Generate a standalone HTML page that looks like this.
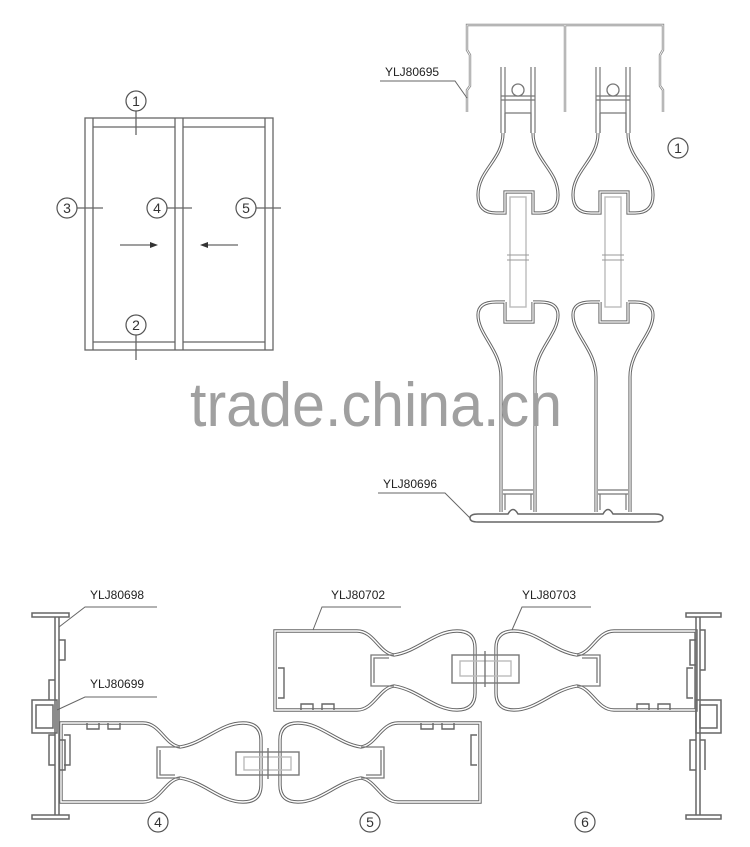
<!DOCTYPE html>
<html><head><meta charset="utf-8"><style>
html,body{margin:0;padding:0;background:#fff;}
svg{display:block;}
text{font-family:"Liberation Sans",sans-serif;}
</style></head><body>
<svg width="750" height="847" viewBox="0 0 750 847" xmlns="http://www.w3.org/2000/svg">
<defs>
 <g id="hs">
  <path d="M61,723 L143,723 C160,723 165,745 180,747 C205,743 220,723 243,723 Q261,723 261,740 L261,785 Q261,802 243,802 C220,802 205,782 180,778 C165,780 160,802 143,802 L61,802 Z" fill="none" stroke="#666" stroke-width="3.4"/>
  <path d="M61,723 L143,723 C160,723 165,745 180,747 C205,743 220,723 243,723 Q261,723 261,740 L261,785 Q261,802 243,802 C220,802 205,782 180,778 C165,780 160,802 143,802 L61,802 Z" fill="none" stroke="#fff" stroke-width="1.4"/>
  <path d="M180,747 H157 V778 H180 M160,750 V775 H175" fill="none" stroke="#777" stroke-width="1.3"/>
  <path d="M87,723 v6 h12 v-6 M108,723 v6 h12 v-6" fill="none" stroke="#666" stroke-width="1.4"/>
  <path d="M64,735 h6 v30 h-6" fill="none" stroke="#666" stroke-width="1.4"/>
 </g>
 <g id="vs">
  <path d="M-17,67 V133 M17,67 V133 M-13,67 V133 M13,67 V133 M-17,96 H17 M-17,100 H17" fill="none" stroke="#777" stroke-width="1.2"/>
  <circle cx="0" cy="90" r="6" fill="#fff" stroke="#777" stroke-width="1.3"/>
  <path d="M-15,133 C-15,160 -40,170 -40,195 Q-40,213 -22,213 L-13,213 L-13,192 L15,192 L15,213 L22,213 Q40,213 40,195 C40,170 15,160 15,133" fill="none" stroke="#666" stroke-width="3.2"/>
  <path d="M-15,133 C-15,160 -40,170 -40,195 Q-40,213 -22,213 L-13,213 L-13,192 L15,192 L15,213 L22,213 Q40,213 40,195 C40,170 15,160 15,133" fill="none" stroke="#fff" stroke-width="1.2"/>
  <path d="M-13,113 H13 V133 M-13,113 V133" fill="none" stroke="#777" stroke-width="1.2"/>
  <rect x="-8" y="197" width="16" height="110" fill="none" stroke="#bbb" stroke-width="1.4"/>
  <path d="M-11,255 H11 M-11,260 H11" stroke="#999" stroke-width="1"/>
  <path d="M-13,302 V322 H15 V302 M-13,302 L-22,302 Q-40,302 -40,315 C-40,335 -17,350 -17,377 V512 M15,302 L22,302 Q40,302 40,315 C40,335 17,350 17,377 V512" fill="none" stroke="#666" stroke-width="3.2"/>
  <path d="M-13,302 V322 H15 V302 M-13,302 L-22,302 Q-40,302 -40,315 C-40,335 -17,350 -17,377 V512 M15,302 L22,302 Q40,302 40,315 C40,335 17,350 17,377 V512" fill="none" stroke="#fff" stroke-width="1.2"/>
  <path d="M-15,490 H15 M-15,494 H15 M-13,494 V510 M13,494 V510" fill="none" stroke="#777" stroke-width="1.2"/>
 </g>
</defs>

<!-- top-left elevation -->
<g fill="none" stroke="#666" stroke-width="1.3">
 <rect x="85" y="118" width="188" height="232"/>
 <path d="M93,118 V350 M175,118 V350 M183,118 V350 M265,118 V350 M93,127 H175 M183,127 H265 M93,342 H175 M183,342 H265"/>
 <path d="M136,111 V135 M77,208 H103 M167,208 H192 M256,208 H281 M136,335 V360 M120,245 H150 M238,245 H208"/>
</g>
<path d="M150,242 L158,245 L150,248 Z M208,242 L200,245 L208,248 Z" fill="#333"/>
<g fill="#fff" stroke="#555" stroke-width="1.2">
 <circle cx="136" cy="101" r="10"/><circle cx="67" cy="208" r="10"/><circle cx="157" cy="208" r="10"/><circle cx="246" cy="208" r="10"/><circle cx="136" cy="325" r="10"/>
</g>
<g font-size="14" fill="#333" text-anchor="middle">
 <text x="136" y="106">1</text><text x="67" y="213">3</text><text x="157" y="213">4</text><text x="246" y="213">5</text><text x="136" y="330">2</text>
</g>

<!-- top-right section -->
<path d="M467,112 V90 L470,86 V55 L467,50 V25 H663 V50 L660,55 V86 L663,90 V112 M565,25 V112" fill="none" stroke="#888" stroke-width="2.4"/>
<path d="M467,112 V90 L470,86 V55 L467,50 V25 H663 V50 L660,55 V86 L663,90 V112 M565,25 V112" fill="none" stroke="#fff" stroke-width="0.8"/>
<use href="#vs" transform="translate(518,0)"/>
<use href="#vs" transform="translate(613,0)"/>
<path d="M470,518 Q470,514 478,514 H508 Q513,505 518,514 H603 Q608,505 613,514 H655 Q663,514 663,518 Q663,522 655,522 H478 Q470,522 470,518 Z" fill="none" stroke="#666" stroke-width="1.5"/>
<circle cx="678" cy="148" r="10" fill="#fff" stroke="#555" stroke-width="1.2"/>
<text x="678" y="153" font-size="14" fill="#333" text-anchor="middle">1</text>
<g fill="#222" font-size="12">
 <text x="385" y="76">YLJ80695</text>
 <text x="383" y="488">YLJ80696</text>
</g>
<path d="M380,81 H455 L467,98 M378,493 H445 L470,518" fill="none" stroke="#666" stroke-width="1"/>

<!-- watermark -->
<text x="190" y="426" font-size="62" fill="#a0a0a0" textLength="372" lengthAdjust="spacingAndGlyphs">trade.china.cn</text>

<!-- bottom sections -->
<use href="#hs"/>
<use href="#hs" transform="translate(541,0) scale(-1,1)"/>
<use href="#hs" transform="translate(214,1433) scale(1,-1)"/>
<use href="#hs" transform="translate(971,0) scale(-1,1) translate(214,1433) scale(1,-1)"/>
<g fill="none" stroke="#777" stroke-width="1.4">
 <rect x="236" y="752" width="63" height="23"/><rect x="244" y="757" width="47" height="13" stroke="#bbb"/><path d="M268,748 V779"/>
 <rect x="452" y="655" width="67" height="28"/><rect x="460" y="661" width="51" height="15" stroke="#bbb"/><path d="M485,651 V687"/>
</g>
<!-- frames -->
<g fill="none" stroke="#666" stroke-width="1.5">
 <path d="M32,613 H69 V617 H32 Z M32,815 H69 V819 H32 Z M55,617 V815 M59,617 V815 M59,640 h6 v20 h-6 M59,740 h6 v30 h-6 M55,680 h-6 v20 M55,735 h-6 v30 h6"/>
 <rect x="32" y="700" width="25" height="33"/><rect x="36" y="705" width="17" height="23"/>
 <path d="M686,613 H721 V617 H686 Z M686,815 H721 V819 H686 Z M696,617 V815 M700,617 V815 M696,640 h-6 v25 h6 M696,740 h-6 v30 h6 M700,630 h5 v40 h-5 M700,740 h5 v30"/>
 <rect x="696" y="700" width="25" height="33"/><rect x="700" y="705" width="17" height="23"/>
</g>
<g fill="#222" font-size="12">
 <text x="90" y="599">YLJ80698</text>
 <text x="90" y="688">YLJ80699</text>
 <text x="331" y="599">YLJ80702</text>
 <text x="522" y="599">YLJ80703</text>
</g>
<path d="M157,607 H85 L59,627 M157,697 H85 L57,710 M401,607 H322 L313,630 M591,607 H522 L512,630" fill="none" stroke="#666" stroke-width="1"/>
<g fill="#fff" stroke="#555" stroke-width="1.2">
 <circle cx="158" cy="822" r="10"/><circle cx="370" cy="822" r="10"/><circle cx="585" cy="822" r="10"/>
</g>
<g font-size="14" fill="#333" text-anchor="middle">
 <text x="158" y="827">4</text><text x="370" y="827">5</text><text x="585" y="827">6</text>
</g>
</svg>
</body></html>
